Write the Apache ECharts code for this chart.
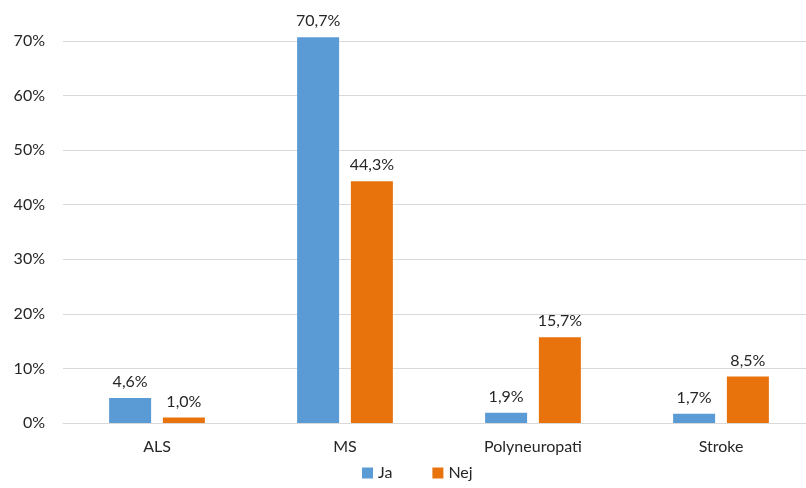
<!DOCTYPE html>
<html>
<head>
<meta charset="utf-8">
<script src="https://cdn.jsdelivr.net/npm/echarts@6/dist/echarts.min.js"></script>
<style>
  html, body { margin: 0; padding: 0; background: #fff; }
  #chart { width: 806px; height: 488px; }
</style>
</head>
<body>
<div id="chart"></div>
<script>
const categories = ['ALS', 'MS', 'Polyneuropati', 'Stroke']
const jaValues = [4.6, 70.7, 1.9, 1.7]
const nejValues = [1.0, 44.3, 15.7, 8.5]
const seriesNames = ['Ja', 'Nej']

const font = 'Lato, "Open Sans", sans-serif'
const fmt = v => v.toFixed(1).replace('.', ',') + '%'

const chart = echarts.init(document.getElementById('chart'))

const barLabel = {
  show: true,
  position: 'top',
  distance: 8,
  color: '#262626',
  fontSize: 16,
  fontFamily: font,
  formatter: p => fmt(p.value)
}

chart.setOption({
  animation: false,
  grid: {
    left: 63,
    top: 41,
    width: 752,
    height: 382,
    outerBoundsMode: 'none'
  },
  legend: {
    bottom: 2,
    left: 357,
    itemWidth: 11,
    itemHeight: 11,
    itemGap: 40,
    icon: 'rect',
    textStyle: { color: '#262626', fontSize: 16, fontFamily: font },
    data: seriesNames
  },
  xAxis: {
    type: 'category',
    data: categories,
    axisLine: { lineStyle: { color: '#d9d9d9' } },
    axisTick: { show: false },
    axisLabel: { color: '#262626', fontSize: 16, fontFamily: font, margin: 16 }
  },
  yAxis: {
    type: 'value',
    min: 0,
    max: 70,
    interval: 10,
    axisLine: { show: false },
    axisTick: { show: false },
    splitLine: { lineStyle: { color: '#d9d9d9' } },
    axisLabel: {
      color: '#262626',
      fontSize: 16,
      fontFamily: font,
      margin: 18,
      formatter: v => v + '%'
    }
  },
  series: [{
    name: seriesNames[0],
    type: 'bar',
    data: jaValues,
    barWidth: 42,
    barGap: '28%',
    clip: false,
    itemStyle: { color: '#5b9bd5' },
    label: barLabel
  }, {
    name: seriesNames[1],
    type: 'bar',
    data: nejValues,
    barWidth: 42,
    clip: false,
    itemStyle: { color: '#e8720c' },
    label: barLabel
  }]
})
</script>
</body>
</html>
